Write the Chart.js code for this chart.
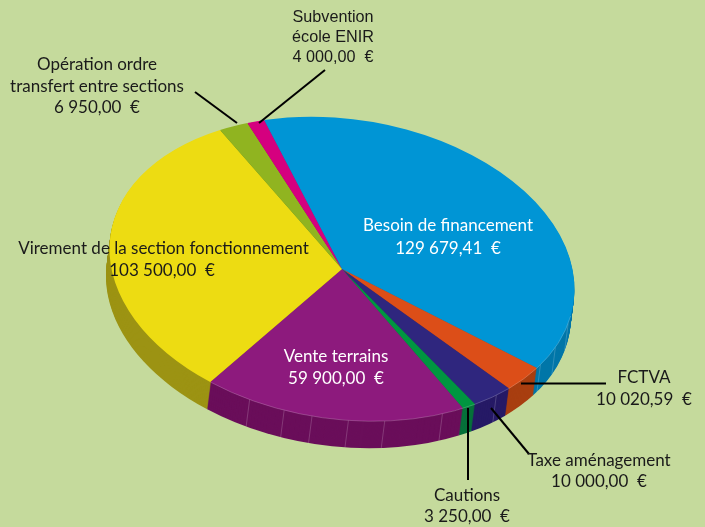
<!DOCTYPE html>
<html><head><meta charset="utf-8">
<style>html,body{margin:0;padding:0;background:#c5da9c;overflow:hidden}canvas{display:block}</style>
<script src="https://cdn.jsdelivr.net/npm/chart.js@4/dist/chart.umd.min.js"></script>
</head><body><canvas id="c" width="705" height="527"></canvas>
<script>
const categories = ["Besoin de financement","FCTVA","Taxe aménagement","Cautions","Vente terrains","Virement de la section fonctionnement","Opération ordre transfert entre sections","Subvention école ENIR"];
const values = [129679.41,10020.59,10000,3250,59900,103500,6950,4000];
const valueLabels = ["129 679,41  €","10 020,59  €","10 000,00  €","3 250,00  €","59 900,00  €","103 500,00  €","6 950,00  €","4 000,00  €"];
const topColors = ["#0095d5","#dc4e18","#2f267e","#009640","#8d1a7d","#eddc12","#90b420","#d5007f"];
const sideColors = ["#0076a8","#a83e10","#261a66","#06713a","#6a0e5a","#9c9313","#6f8a18","#a00060"];
const facetAngles = [98,108,116,133,149,164,173,182,189,198];

const FONT = '"Lato"', FS = 17;
const view = {cx:342, cy:269, tilt:8.4*Math.PI/180, squash:150/234, radius:234, dx:-3.5, dy:27};
const textBlocks = [
 {lines:["Subvention","école ENIR",valueLabels[7]], x:333, y:[18,38,58], color:"#1a1a1a", font:'"Liberation Sans"', size:16.2},
 {lines:["Opération ordre","transfert entre sections",valueLabels[6]], x:97, y:[65,87,108], color:"#1a1a1a"},
 {lines:["Virement de la section fonctionnement"], x:163.5, y:[249], color:"#1a1a1a"},
 {lines:[valueLabels[5]], x:162, y:[271], color:"#1a1a1a"},
 {lines:["Besoin de financement",valueLabels[0]], x:448, y:[226,249], color:"#ffffff"},
 {lines:["Vente terrains",valueLabels[4]], x:336, y:[357,379], color:"#ffffff"},
 {lines:["FCTVA",valueLabels[1]], x:644, y:[378,400], color:"#1a1a1a"},
 {lines:["Taxe aménagement",valueLabels[2]], x:599, y:[461,482], color:"#1a1a1a"},
 {lines:["Cautions",valueLabels[3]], x:467, y:[496,517], color:"#1a1a1a"}
];
const leaders = [[195,92,237,123],[325,70,259,123],[521,383.5,606,383.5],[491,408,529,454],[468,408,468,480]];

function applyView(ctx, arc, ox, oy){
  ctx.translate(view.cx+ox, view.cy+oy);
  ctx.rotate(view.tilt);
  ctx.scale(1, view.squash);
  ctx.translate(-arc.x, -arc.y);
}
const pie3d = {
  id:'pie3d',
  beforeDatasetsDraw(chart){
    const ctx = chart.ctx, arcs = chart.getDatasetMeta(0).data, a0 = arcs[0];
    const steps = Math.round(view.dy);
    for(let s=steps;s>=1;s--){
      arcs.forEach((arc,i)=>{
        ctx.save();
        applyView(ctx,a0,view.dx*s/steps,s);
        ctx.beginPath();
        ctx.moveTo(arc.x,arc.y);
        ctx.arc(arc.x,arc.y,arc.outerRadius,arc.startAngle,arc.endAngle);
        ctx.closePath();
        ctx.fillStyle=sideColors[i];
        ctx.fill();
        ctx.restore();
      });
    }
    ctx.save();
    ctx.strokeStyle="rgba(255,255,255,0.18)";
    ctx.lineWidth=1;
    facetAngles.forEach(deg=>{
      const t=(deg-90)*Math.PI/180, r=a0.outerRadius;
      const px=r*Math.cos(t), py=r*Math.sin(t)*view.squash;
      const c=Math.cos(view.tilt), si=Math.sin(view.tilt);
      const X=view.cx+px*c-py*si, Y=view.cy+px*si+py*c;
      ctx.beginPath();ctx.moveTo(X,Y);ctx.lineTo(X+view.dx,Y+view.dy);ctx.stroke();
    });
    ctx.restore();
    ctx.save();
    applyView(ctx,a0,0,0);
  },
  afterDatasetsDraw(chart){
    const ctx = chart.ctx, a0 = chart.getDatasetMeta(0).data[0];
    ctx.restore();
    ctx.save();
    applyView(ctx,a0,0,0);
    ctx.beginPath();
    ctx.arc(a0.x,a0.y,a0.outerRadius,(95-90)*Math.PI/180,(209-90)*Math.PI/180);
    ctx.restore();
    ctx.strokeStyle="rgba(255,255,255,0.25)";
    ctx.lineWidth=0.8;
    ctx.stroke();
    ctx.save();
    ctx.strokeStyle="#000";ctx.lineWidth=2;
    leaders.forEach(l=>{ctx.beginPath();ctx.moveTo(l[0],l[1]);ctx.lineTo(l[2],l[3]);ctx.stroke();});
    ctx.restore();
    ctx.save();
    ctx.textAlign="center";ctx.textBaseline="middle";
    textBlocks.forEach(b=>{
      ctx.fillStyle=b.color;
      ctx.font=(b.size||FS)+"px "+(b.font||FONT);
      b.lines.forEach((t,i)=>ctx.fillText(t,b.x,b.y[i]));
    });
    ctx.restore();
  }
};

new Chart(document.getElementById('c'),{
  type:'pie',
  data:{labels:categories,datasets:[{data:values,backgroundColor:topColors,borderWidth:0}]},
  options:{
    responsive:false,animation:false,rotation:-25,radius:view.radius,
    plugins:{legend:{display:false},tooltip:{enabled:false}}
  },
  plugins:[pie3d]
});
</script></body></html>
